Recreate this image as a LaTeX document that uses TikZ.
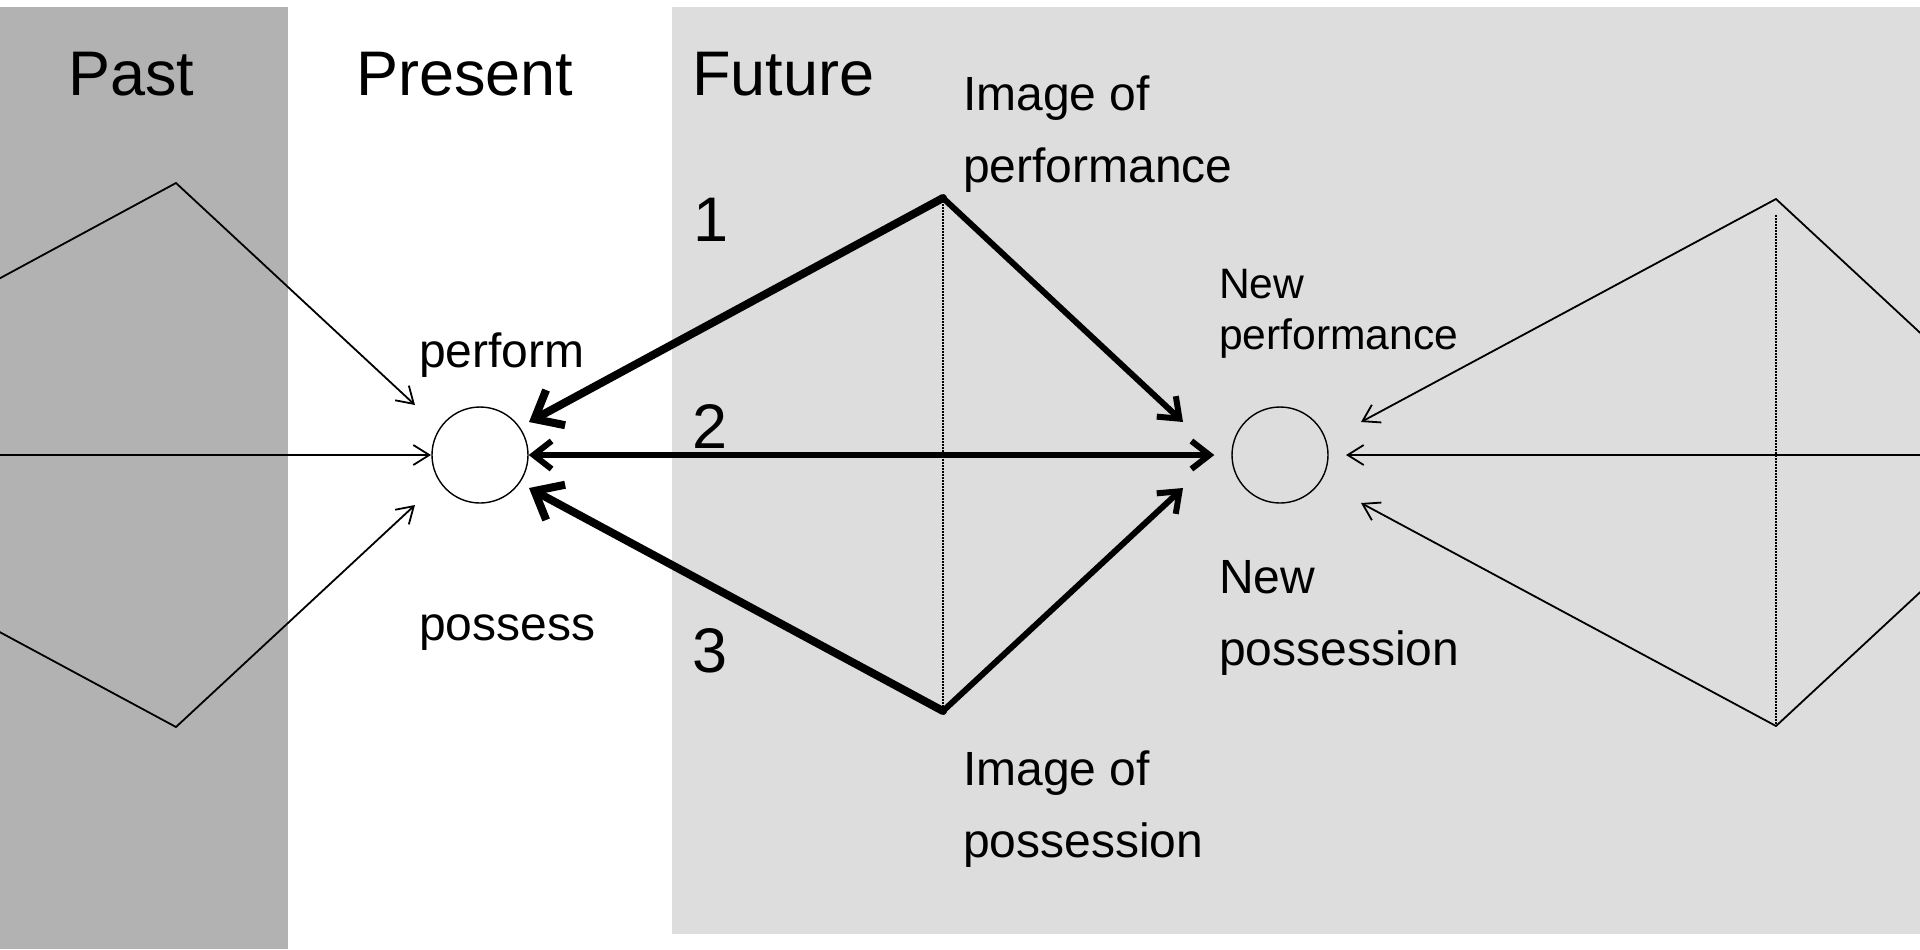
\documentclass[tikz,border=0pt]{standalone}
\usepackage{fontspec}
\setmainfont{Liberation Sans}
\usetikzlibrary{arrows.meta}
\definecolor{pastgray}{HTML}{B2B2B2}
\definecolor{futuregray}{HTML}{DDDDDD}
\newcommand\bigtxt{\fontsize{31.5}{38}\selectfont}
\newcommand\medtxt{\fontsize{24}{36}\selectfont}
\newcommand\smtxt{\fontsize{21.3}{25.5}\selectfont}
\begin{document}
\begin{tikzpicture}[x=0.5pt,y=-0.5pt,
  lbl/.style={anchor=base west, inner sep=0pt, outer sep=0pt, text=black},
  ring/.style={circle, draw, line width=0.7pt, minimum size=48pt, inner sep=0pt},
  plainline/.style={line width=0.9pt, line cap=round},
  thinarrow/.style={line width=0.9pt, line cap=round, -{Straight Barb[length=8pt,width=10pt]}},
  medarrow/.style={line width=3pt, line cap=round, -{Straight Barb[length=9pt,width=14pt]}},
  heavyarrow/.style={line width=4pt, line cap=round, -{Straight Barb[length=12pt,width=20pt]}},
  axisline/.style={line width=0.7pt, dash pattern=on 0.75pt off 0.75pt}
]
\useasboundingbox (0,0) rectangle (1920,949);
\clip (0,0) rectangle (1920,949);
% backgrounds
\fill[white] (0,0) rectangle (1920,949);
\fill[pastgray] (0,7) rectangle (288,949);
\fill[futuregray] (672,7) rectangle (1920,934);

% circles
\node[ring] (c1) at (480,455) {};
\node[ring] (c2) at (1280,455) {};

% coordinates: past diamond
\coordinate (PT) at (176,183);
\coordinate (PB) at (176,727);
\coordinate (PLt) at (-238,407);
\coordinate (PLb) at (-238,504);
\coordinate (PH) at (-10,455);
\coordinate (PTt) at (415,405);
\coordinate (PBt) at (415,505);
\coordinate (PHt) at (431,455);
% middle diamond
\coordinate (T) at (943,198);
\coordinate (B) at (943,711);
\coordinate (Tl) at (529,422);
\coordinate (Bl) at (529,488);
\coordinate (Tr) at (1183,422);
\coordinate (Br) at (1183,488);
% right diamond
\coordinate (RT) at (1776,199);
\coordinate (RB) at (1776,726);
\coordinate (RD) at (1776,215);
\coordinate (RTt) at (1361,422);
\coordinate (RBt) at (1361,503);
\coordinate (RHt) at (1346,455);
\coordinate (RH) at (1930,455);
\coordinate (RRt) at (1930,342);
\coordinate (RRb) at (1930,583);

% past diamond
\draw[plainline] (PLt) -- (PT);
\draw[plainline] (PLb) -- (PB);
\draw[thinarrow] (PT) -- (PTt);
\draw[thinarrow] (PB) -- (PBt);
\draw[thinarrow] (PH) -- (PHt);

% middle diamond
\draw[axisline] (T) -- (B);
\draw[heavyarrow] (T) -- (Tl);
\draw[heavyarrow] (B) -- (Bl);
\draw[medarrow] (T) -- (Tr);
\draw[medarrow] (B) -- (Br);
\draw[medarrow, {Straight Barb[length=9pt,width=14pt]}-{Straight Barb[length=9pt,width=14pt]}, shorten >=8.5pt] (c1.east) -- (c2.west);

% right diamond
\draw[axisline] (RD) -- (RB);
\draw[thinarrow] (RT) -- (RTt);
\draw[thinarrow] (RB) -- (RBt);
\draw[thinarrow] (RH) -- (RHt);
\draw[plainline] (RT) -- (RRt);
\draw[plainline] (RB) -- (RRb);

% labels (multi-line labels are placed by the baseline of their last line)
\node[lbl, font=\bigtxt] (past) at (68,95) {Past};
\node[lbl, font=\bigtxt] (present) at (356,95) {Present};
\node[lbl, font=\bigtxt] (future) at (692,95) {Future};
\node[lbl, font=\bigtxt] (n1) at (693,241) {1};
\node[lbl, font=\bigtxt] (n2) at (692,448) {2};
\node[lbl, font=\bigtxt] (n3) at (692,672) {3};
\node[lbl, font=\medtxt, align=left] (imgperf) at (963,182) {Image of\\performance};
\node[lbl, font=\medtxt] (perform) at (419,367) {perform};
\node[lbl, font=\medtxt] (possess) at (419,640) {possess};
\node[lbl, font=\smtxt, align=left] (newperf) at (1219,349) {New\\performance};
\node[lbl, font=\medtxt, align=left] (newposs) at (1219,665) {New\\possession};
\node[lbl, font=\medtxt, align=left] (imgposs) at (963,857) {Image of\\possession};
\end{tikzpicture}
\end{document}
